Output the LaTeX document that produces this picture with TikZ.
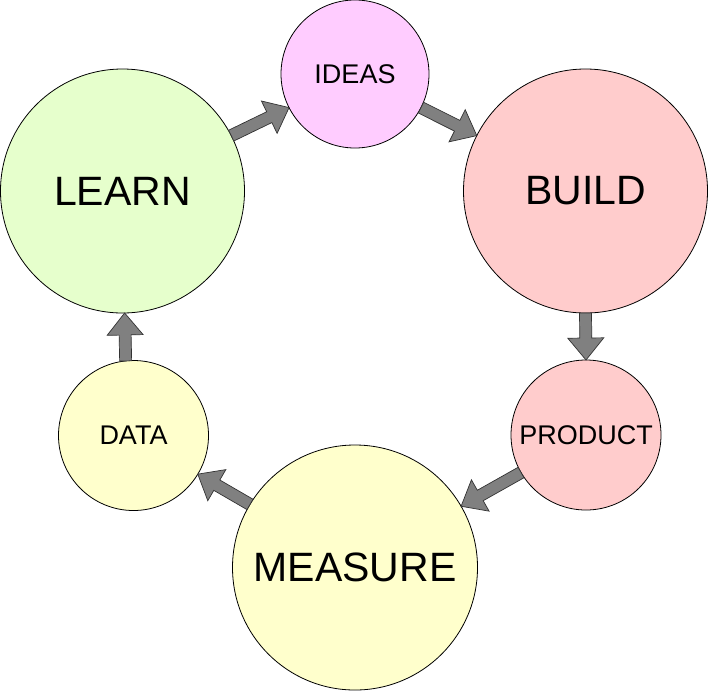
\documentclass[tikz,border=0pt]{standalone}
\usepackage{fontspec}
\setmainfont{Liberation Sans}
\usetikzlibrary{calc}

\definecolor{learnfill}{HTML}{E6FFCC}
\definecolor{ideasfill}{HTML}{FFCCFF}
\definecolor{buildfill}{HTML}{FFCCCC}
\definecolor{measurefill}{HTML}{FFFFCC}
\definecolor{flowgray}{HTML}{808080}

\tikzset{
  stage/.style={circle,draw=black,line width=0.8pt,inner sep=0pt,outer sep=0pt},
  bigstage/.style={stage,minimum size=244pt,font=\fontsize{41}{41}\selectfont},
  smallstage/.style={stage,minimum size=150pt,font=\fontsize{27}{27}\selectfont},
  flowarrow/.style={fill=flowgray,draw=black!80,line width=0.7pt,line join=miter}
}

% block arrow from #1 to #2
\newcommand{\flow}[2]{%
  \coordinate (hb) at ($(#2)!22pt!(#1)$);
  \filldraw[flowarrow] ($(#1)!6pt!90:(#2)$) -- ($(hb)!6pt!-90:(#1)$)
    -- ($(hb)!18pt!-90:(#1)$) -- (#2) -- ($(hb)!18pt!90:(#1)$)
    -- ($(hb)!6pt!90:(#1)$) -- ($(#1)!6pt!-90:(#2)$) -- cycle;
}

\begin{document}
\begin{tikzpicture}[x=1pt,y=-1pt]

  \useasboundingbox (0,0) rectangle (708,691);

  % Stages
  \node[bigstage,fill=learnfill] (learn) at (122.5,191) {LEARN};
  \node[smallstage,minimum size=148pt,fill=ideasfill] (ideas) at (355,74) {IDEAS};
  \node[bigstage,fill=buildfill] (build) at (585.5,191) {BUILD};
  \node[smallstage,fill=buildfill] (product) at (586,435) {PRODUCT};
  \node[bigstage,minimum size=245pt,fill=measurefill] (measure) at (355,567.5) {MEASURE};
  \node[smallstage,fill=measurefill] (data) at (133.5,435.5) {DATA};

  % Flows
  \flow{learn.27}{ideas.207}
  \flow{ideas.-27}{build.153}
  \flow{build.-90}{product.90}
  \flow{product.210}{measure.30}
  \flow{measure.149}{data.-31}
  \flow{data.96}{learn.-89}

\end{tikzpicture}
\end{document}
